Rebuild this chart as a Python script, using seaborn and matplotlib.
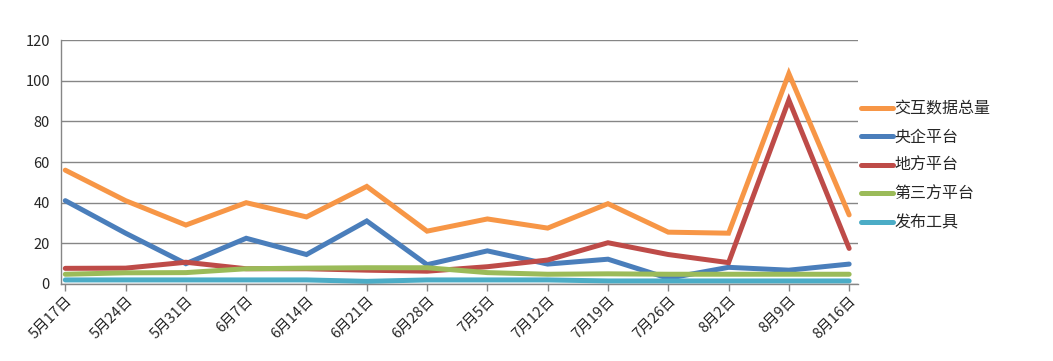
import matplotlib
matplotlib.use("Agg")
import matplotlib.pyplot as plt
import matplotlib.transforms as mtransforms
import seaborn as sns
import pandas as pd

dates = ["5月17日", "5月24日", "5月31日", "6月7日", "6月14日", "6月21日", "6月28日",
         "7月5日", "7月12日", "7月19日", "7月26日", "8月2日", "8月9日", "8月16日"]
total = [56, 41, 29, 40, 33, 48, 26, 32, 27.5, 39.5, 25.5, 25, 103.5, 34]
central = [41, 25, 10, 22.5, 14.5, 31, 9.5, 16.3, 9.8, 12.2, 2.8, 8.2, 6.8, 9.8]
local = [7.7, 7.8, 10.7, 7.5, 7.5, 6.8, 6.3, 8.5, 11.8, 20.3, 14.5, 10.5, 90.5, 17.5]
third = [4.8, 5.5, 5.6, 7.5, 7.8, 8.0, 8.0, 5.6, 4.8, 5.0, 4.8, 4.8, 4.8, 4.8]
tool = [2.0, 2.0, 2.0, 2.0, 2.0, 1.3, 2.0, 2.0, 2.0, 1.5, 1.5, 1.5, 1.5, 1.5]

series_names = ["交互数据总量", "央企平台", "地方平台", "第三方平台", "发布工具"]
series_values = [total, central, local, third, tool]
colors = ["#F79646", "#4A7EBB", "#BE4B48", "#9BBB59", "#4BACC6"]

rows = []
for name, vals in zip(series_names, series_values):
    for i, v in enumerate(vals):
        rows.append({"x": i, "value": v, "series": name})
df = pd.DataFrame(rows)

sns.set_theme(style="white")
plt.rcParams['font.family'] = ['Noto Sans CJK SC', 'DejaVu Sans']

fig = plt.figure(figsize=(10.53, 3.61), dpi=100)
ax = fig.add_axes([0.058, 0.2133, 0.757, 0.6757])

sns.lineplot(data=df, x="x", y="value", hue="series", hue_order=series_names,
             palette=colors, linewidth=3.6, ax=ax, legend=True,
             solid_capstyle="round", solid_joinstyle="miter")

ax.set_ylim(0, 120)
ax.set_yticks(range(0, 121, 20))
ax.set_xlim(-0.07, 13.15)
ax.set_xticks(range(len(dates)))
ax.set_xticklabels(dates, rotation=45, ha="right", rotation_mode="anchor", fontsize=10.5)
offset = mtransforms.ScaledTranslation(5 / 100, 0, fig.dpi_scale_trans)
for lab in ax.get_xticklabels():
    lab.set_transform(lab.get_transform() + offset)
ax.tick_params(axis="y", labelsize=10.5, length=0, pad=8)
ax.tick_params(axis="x", length=5, color="#868686", width=1, pad=2, bottom=True)
ax.set_xlabel("")
ax.set_ylabel("")
ax.grid(axis="y", color="#868686", linewidth=1)
ax.set_axisbelow(True)
for s in ["top", "right"]:
    ax.spines[s].set_visible(False)
for s in ["left", "bottom"]:
    ax.spines[s].set_color("#868686")
    ax.spines[s].set_linewidth(1)

leg = ax.legend(loc="upper left", bbox_to_anchor=(0.995, 0.78), frameon=False,
                fontsize=11.5, handlelength=2.0, handletextpad=0.1, labelspacing=0.72,
                borderaxespad=0)
for h in leg.get_lines():
    h.set_linewidth(3.6)
    h.set_solid_capstyle("round")

fig.savefig("out.png", dpi=100)
